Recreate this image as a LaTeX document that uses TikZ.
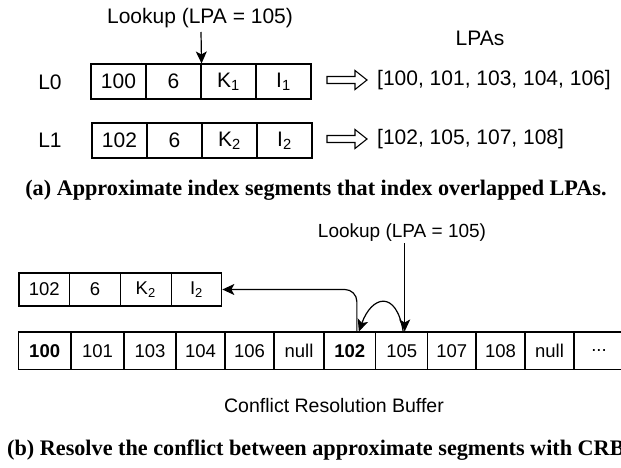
\documentclass[tikz,border=0pt]{standalone}
\usepackage{fontspec}
\setmainfont{Liberation Sans}
\newfontfamily\capfont{Liberation Serif}
\usetikzlibrary{arrows.meta}
\newcommand{\celldots}{...}
\tikzset{
  cell/.style={draw, line width=1.1pt, inner sep=0pt, anchor=center},
  big/.style={font=\fontsize{21}{24}\selectfont},
  mid/.style={font=\fontsize{18.5}{22}\selectfont},
  lbl/.style={inner sep=0pt},
  arr/.style={line width=1.2pt, -{Stealth[length=12pt,width=11pt,inset=3pt]}},
  captext/.style={inner sep=0pt, font=\capfont\bfseries\fontsize{22.2}{26}\selectfont},
  hollowarr/.pic={\draw[line width=1.1pt, line join=miter] (0,-3.5) -- (28,-3.5) -- (28,-9.5) -- (40,0) -- (28,9.5) -- (28,3.5) -- (0,3.5) -- cycle;}
}
\begin{document}
\begin{tikzpicture}[x=1pt,y=-1pt]
\useasboundingbox (0,0) rectangle (621,468);
\clip (0,0) rectangle (621,468);
% ---------- part (a)
\foreach \i/\t in {0/100,1/6,2/K\textsubscript{1},3/I\textsubscript{1}}
  \node[cell, big, minimum width=55pt, minimum height=35pt] (t\i) at ({118.5+55*\i},81.5) {\t};
\foreach \i/\t in {0/102,1/6,2/K\textsubscript{2},3/I\textsubscript{2}}
  \node[cell, big, minimum width=55pt, minimum height=35pt] (u\i) at ({119.5+55*\i},140.5) {\t};
\node[lbl, big] (l0) at (50,82) {L0};
\node[lbl, big] (l1) at (50,140.5) {L1};
\node[lbl, big] (lookA) at (200,18) {Lookup (LPA = 105)};
\coordinate (lookAs) at (201,32);
\draw[arr] (lookAs) -- (t1.north east);
\node[lbl, big] (lpas) at (480,38) {LPAs};
\pic at (327,80) {hollowarr};
\pic at (327,139) {hollowarr};
\node[lbl, big, anchor=west] (r0) at (377,80) {[100, 101, 103, 104, 106]};
\node[lbl, big, anchor=west] (r1) at (377,139) {[102, 105, 107, 108]};
\node[captext] (capa) at (316,190) {(a) Approximate index segments that index overlapped LPAs.};
% ---------- part (b)
\foreach \i/\t in {0/102,1/6,2/K\textsubscript{2},3/I\textsubscript{2}}
  \node[cell, mid, minimum width=50.7pt, minimum height=33pt] (s\i) at ({44.35+50.7*\i},289.5) {\t};
\foreach \i/\l/\r/\t in {0/18.3/71/\textbf{100},1/71/124/101,2/124/176/103,3/176/225/104,4/225/274/106,5/274/324/null,6/324/375.7/\textbf{102},7/375.7/427.7/105,8/427.7/476/107,9/476/525/108,10/525/574/null,11/574/624/\celldots}
  \node[cell, mid, minimum width={\r-\l}, minimum height=37.5pt] (c\i) at ({(\l+\r)/2},350.75) {\t};
\node[lbl, font=\fontsize{19}{22}\selectfont] (lookB) at (402,233) {Lookup (LPA = 105)};
\coordinate (lookBs) at (404.7,243);
\draw[arr] (lookBs) -- ([xshift=3pt]c7.north);
\draw[arr, rounded corners=12pt] ([xshift=7pt]c6.north) |- (s3.east);
\draw[arr] ([xshift=1.5pt]c7.north) .. controls +(-7,-42) and +(13,-36) .. ([xshift=9pt]c6.north);
\node[lbl, font=\fontsize{19.5}{22}\selectfont] (crb) at (334,406) {Conflict Resolution Buffer};
\node[captext, anchor=west] (capb) at (7,450) {(b) Resolve the conflict between approximate segments with CRB};
\end{tikzpicture}
\end{document}
